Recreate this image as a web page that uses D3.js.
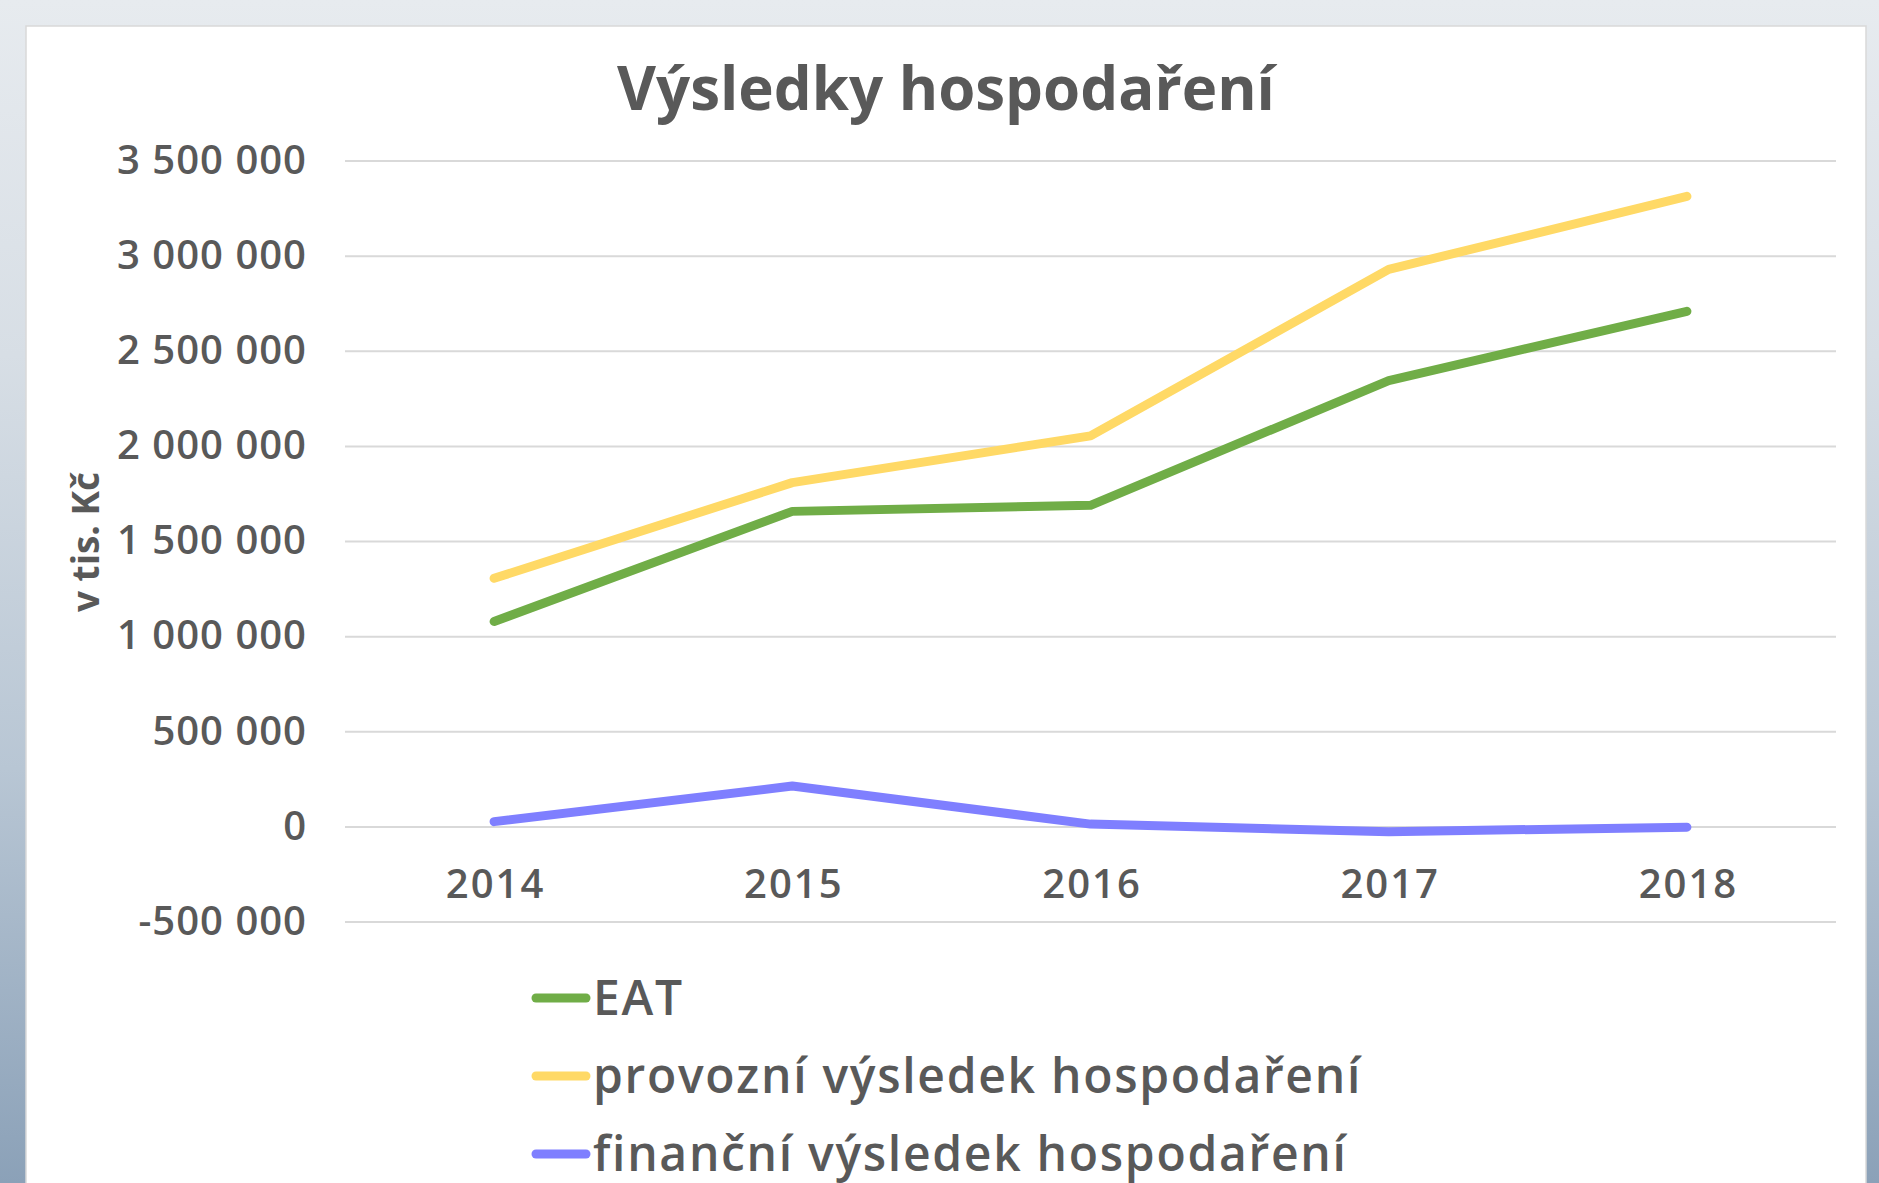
<!DOCTYPE html>
<html>
<head>
<meta charset="utf-8">
<script src="https://cdn.jsdelivr.net/npm/d3@7"></script>
<style>
  html, body { margin: 0; padding: 0; overflow: hidden; }
  body { width: 1879px; height: 1183px; }
  text { font-family: "Open Sans", "Noto Sans", sans-serif; fill: #595959; }
  .grid line { stroke: #d9d9d9; stroke-width: 2; }
  .grid .domain { display: none; }
  .axis .domain { display: none; }
  .axis line { display: none; }
  .series { fill: none; stroke-width: 9; stroke-linecap: round; stroke-linejoin: round; }
</style>
</head>
<body>
<div id="chart-area"></div>
<script>
var years = ["2014", "2015", "2016", "2017", "2018"];
var seriesNames = ["EAT", "provozní výsledek hospodaření", "finanční výsledek hospodaření"];
var eat = [1077000, 1656000, 1688000, 2343000, 2708000];
var provozni = [1304000, 1807000, 2053000, 2928000, 3312000];
var financni = [25000, 212000, 12000, -28000, -4000];
var yTicks = [-500000, 0, 500000, 1000000, 1500000, 2000000, 2500000, 3000000, 3500000];
var yLabel = "v tis. Kč";
var title = "Výsledky hospodaření";

var locale = d3.formatLocale({ decimal: ",", thousands: "\u00a0", grouping: [3], currency: ["", " Kč"], minus: "-" });
var fmt = locale.format(",");

LineChart = function(_parentElement, _data){
  this.parentElement = _parentElement;
  this.data = _data;
  this.initVis();
}

LineChart.prototype.initVis = function(){
  var vis = this;

  vis.totalWidth = 1879;
  vis.totalHeight = 1183;
  vis.margin = { top: 160.6, right: 43, bottom: 261.5, left: 345 };
  vis.width = vis.totalWidth - vis.margin.left - vis.margin.right;
  vis.height = vis.totalHeight - vis.margin.top - vis.margin.bottom;

  vis.root = d3.select("#" + vis.parentElement).append("svg")
    .attr("width", vis.totalWidth)
    .attr("height", vis.totalHeight);

  // page background + white card
  var grad = vis.root.append("defs").append("linearGradient")
    .attr("id", "bg").attr("x1", 0).attr("y1", 0).attr("x2", 0).attr("y2", 1);
  grad.append("stop").attr("offset", "0").attr("stop-color", "#e7ebef");
  grad.append("stop").attr("offset", "0.3").attr("stop-color", "#d7dee5");
  grad.append("stop").attr("offset", "0.65").attr("stop-color", "#b8c6d4");
  grad.append("stop").attr("offset", "1").attr("stop-color", "#8ba1b8");

  vis.root.append("rect")
    .attr("width", vis.totalWidth).attr("height", vis.totalHeight)
    .attr("fill", "url(#bg)");

  vis.root.append("rect")
    .attr("x", 26).attr("y", 26)
    .attr("width", 1840).attr("height", 1200)
    .attr("fill", "#ffffff")
    .attr("stroke", "#d9d9d9")
    .attr("stroke-width", 1.5);

  vis.svg = vis.root.append("g")
    .attr("transform", "translate(" + vis.margin.left + "," + vis.margin.top + ")");

  vis.x = d3.scalePoint()
    .domain(years)
    .range([0, vis.width])
    .padding(0.5);

  vis.y = d3.scaleLinear()
    .domain([d3.min(yTicks), d3.max(yTicks)])
    .range([vis.height, 0]);

  vis.color = d3.scaleOrdinal()
    .domain(seriesNames)
    .range(["#70ad47", "#ffd966", "#7f7fff"]);

  vis.updateVis();
};

LineChart.prototype.updateVis = function(){
  var vis = this;

  // Gridlines
  vis.svg.append("g")
    .attr("class", "grid")
    .call(d3.axisLeft(vis.y).tickValues(yTicks).tickSize(-vis.width).tickFormat(""));

  // Axes
  vis.svg.append("g")
    .attr("class", "axis y-axis")
    .call(d3.axisLeft(vis.y).tickValues(yTicks).tickSize(0).tickPadding(38).tickFormat(fmt))
    .selectAll("text")
    .style("font-size", "40px")
    .style("font-weight", 600)
    .style("letter-spacing", "1px");

  vis.svg.append("g")
    .attr("class", "axis x-axis")
    .attr("transform", "translate(0," + vis.y(0) + ")")
    .call(d3.axisBottom(vis.x).tickSize(0).tickPadding(43))
    .selectAll("text")
    .attr("dx", "1px")
    .style("font-size", "40px")
    .style("font-weight", 600)
    .style("letter-spacing", "2px");

  // Lines
  var line = d3.line()
    .x(function(d, i){ return vis.x(years[i]); })
    .y(function(d){ return vis.y(d); });

  vis.svg.selectAll(".series")
    .data(vis.data)
    .enter().append("path")
    .attr("class", "series")
    .attr("stroke", function(d){ return vis.color(d.name); })
    .attr("d", function(d){ return line(d.values); });

  // Labels
  vis.root.append("text")
    .attr("text-anchor", "middle")
    .attr("x", 946)
    .attr("y", 110)
    .style("font-size", "60px")
    .style("font-weight", 700)
    .text(title);

  vis.root.append("text")
    .attr("text-anchor", "middle")
    .attr("transform", "translate(99,542)rotate(-90)")
    .style("font-size", "37px")
    .style("font-weight", 700)
    .text(yLabel);

  // Legend
  var legend = vis.root.append("g")
    .attr("transform", "translate(536,998)");

  var item = legend.selectAll(".legend-item")
    .data(vis.data)
    .enter().append("g")
    .attr("class", "legend-item")
    .attr("transform", function(d, i){ return "translate(0," + (i * 78) + ")"; });

  item.append("line")
    .attr("x1", 0).attr("x2", 50)
    .attr("stroke", function(d){ return vis.color(d.name); })
    .attr("stroke-width", 9)
    .attr("stroke-linecap", "round");

  item.append("text")
    .attr("x", 57)
    .attr("y", 17)
    .style("font-size", "48px")
    .style("font-weight", 600)
    .style("letter-spacing", "1.7px")
    .text(function(d){ return d.name; });
};

var chartData = [
  { name: seriesNames[0], values: eat },
  { name: seriesNames[1], values: provozni },
  { name: seriesNames[2], values: financni }
];

var chart = new LineChart("chart-area", chartData);
</script>
</body>
</html>
